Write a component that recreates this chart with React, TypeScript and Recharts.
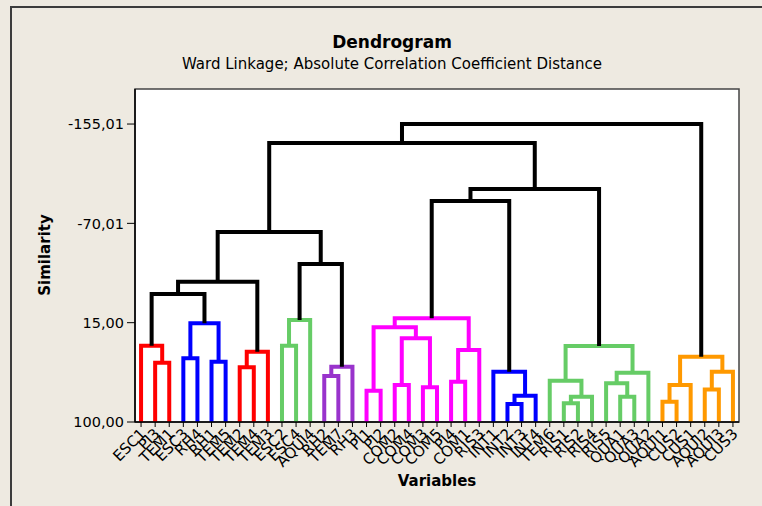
import React from 'react';
import { ComposedChart, Line, XAxis, YAxis, CartesianGrid, ReferenceArea } from 'recharts';

// Leaf variables in dendrogram order
const leafLabels: string[] = [
  'ESC1', 'PI3', 'TEM1', 'ESC3', 'RH4', 'RH1', 'TEM5', 'TEM2', 'TEM4', 'TEM3',
  'ESC2', 'ESC4', 'AQUI4', 'RH2', 'TEM7', 'RH3', 'PI1', 'PI2', 'COM2', 'COM4',
  'COM3', 'COM5', 'PI4', 'COM1', 'RIS3', 'INT1', 'INT2', 'INT3', 'INT4', 'TEM6',
  'RIS1', 'RIS2', 'RIS4', 'RIS5', 'QUA1', 'QUA3', 'QUA2', 'AQUI1', 'CUS2', 'CUS1',
  'AQUI2', 'AQUI3', 'CUS3',
];

// Merge steps: [left node, right node, similarity]. Nodes 0..42 are leaves,
// node 43 + k is the cluster created at step k.
const merges: [number, number, number][] = [
  [1, 2, 49.3],    // 43
  [0, 43, 34.7],   // 44
  [3, 4, 45.5],    // 45
  [5, 6, 48.4],    // 46
  [45, 46, 15.5],  // 47
  [44, 47, -9.5],  // 48
  [7, 8, 53.2],    // 49
  [49, 9, 39.8],   // 50
  [48, 50, -20.1], // 51
  [10, 11, 34.7],  // 52
  [52, 12, 12.7],  // 53
  [13, 14, 60.6],  // 54
  [54, 15, 52.7],  // 55
  [53, 55, -35.2], // 56
  [51, 56, -62.6], // 57
  [16, 17, 73.2],  // 58
  [18, 19, 68.3],  // 59
  [20, 21, 70.3],  // 60
  [59, 60, 28.4],  // 61
  [58, 61, 19.0],  // 62
  [22, 23, 65.5],  // 63
  [63, 24, 38.4],  // 64
  [62, 64, 11.3],  // 65
  [26, 27, 84.6],  // 66
  [66, 28, 77.5],  // 67
  [25, 67, 57.0],  // 68
  [65, 68, -89.1], // 69
  [30, 31, 84.0],  // 70
  [70, 32, 78.3],  // 71
  [29, 71, 64.6],  // 72
  [34, 35, 78.3],  // 73
  [33, 73, 66.9],  // 74
  [74, 36, 57.8],  // 75
  [72, 75, 35.0],  // 76
  [69, 76, -99.4], // 77
  [57, 77, -138.7],// 78
  [37, 38, 82.6],  // 79
  [79, 39, 68.3],  // 80
  [40, 41, 72.1],  // 81
  [81, 42, 57.0],  // 82
  [80, 82, 44.1],  // 83
  [78, 83, -155.01], // 84
];

const yTicks: number[] = [-155.01, -70.01, 15.0, 100.0];
const leafSimilarity = 100;
const colorCut = 0;

// styles
const palette = ['#FF0000', '#0000FF', '#FF0000', '#66CC66', '#9933CC', '#FF00FF', '#0000FF', '#66CC66', '#FF9900'];
const BG = '#EEEAE1';
const FONT = '"DejaVu Sans", Verdana, sans-serif';

const N = leafLabels.length;
const nodeX: number[] = leafLabels.map((_, i) => i);
const nodeH: number[] = leafLabels.map(() => leafSimilarity);
merges.forEach(([a, b, h]) => {
  nodeX.push((nodeX[a] + nodeX[b]) / 2);
  nodeH.push(h);
});

const nodeColor: Record<number, string> = {};
let colorIdx = 0;
const paint = (id: number, color: string | null) => {
  if (id < N) return;
  const [a, b, h] = merges[id - N];
  let c = color;
  if (c === null && h >= colorCut) {
    c = palette[colorIdx % palette.length];
    colorIdx += 1;
  }
  nodeColor[id] = c ?? '#000000';
  paint(a, c);
  paint(b, c);
};
paint(N + merges.length - 1, null);

const links = merges.map(([a, b, h], k) => {
  const id = N + k;
  return {
    id,
    color: nodeColor[id],
    data: [
      { x: nodeX[a], y: nodeH[a] },
      { x: nodeX[a], y: h },
      { x: nodeX[b], y: h },
      { x: nodeX[b], y: nodeH[b] },
    ],
  };
});
// colored first, black on top
const orderedLinks = [...links].sort((p, q) => (p.color === '#000000' ? 1 : 0) - (q.color === '#000000' ? 1 : 0));

const X_MIN = -0.43;
const X_MAX = N - 1 + 0.43;
const Y_MIN = -185;
const Y_MAX = 100;

const LeafTick = (props: any) => {
  const { x, y, payload } = props;
  return (
    <g transform={`translate(${x + 2},${y + 2}) rotate(-45)`}>
      <text x={0} y={0} dy="0.35em" textAnchor="end" fontSize={15} fontFamily={FONT} fill="#000">
        {leafLabels[payload.value]}
      </text>
    </g>
  );
};

const fmt = (v: number) => v.toFixed(2).replace('.', ',');

export default function App() {
  return (
    <div style={{ position: 'fixed', left: 0, top: 0, width: 762, height: 506, background: BG, overflow: 'hidden', fontFamily: FONT }}>
      <div style={{ position: 'absolute', left: 10, top: 6, width: 900, height: 700, borderTop: '2px solid #3c3c3c', borderLeft: '2px solid #3c3c3c' }} />
      <div style={{ position: 'absolute', left: 0, width: 784, top: 32, textAlign: 'center', fontWeight: 'bold', fontSize: 17, color: '#000', lineHeight: '20px' }}>
        Dendrogram
      </div>
      <div style={{ position: 'absolute', left: 0, width: 784, top: 54, textAlign: 'center', fontSize: 15, color: '#000', lineHeight: '20px' }}>
        Ward Linkage; Absolute Correlation Coefficient Distance
      </div>
      <div style={{ position: 'absolute', left: 0, width: 874, top: 472, textAlign: 'center', fontWeight: 'bold', fontSize: 15, color: '#000', lineHeight: '18px' }}>
        Variables
      </div>
      <div style={{ position: 'absolute', left: 45, top: 255, width: 0, height: 0 }}>
        <div style={{ position: 'absolute', left: -60, top: -10, width: 120, textAlign: 'center', fontWeight: 'bold', fontSize: 15, lineHeight: '20px', transform: 'rotate(-90deg)', color: '#000' }}>
          Similarity
        </div>
      </div>
      <div style={{ position: 'absolute', left: 0, top: 0 }}>
        <ComposedChart width={762} height={506} margin={{ top: 89, right: 23, bottom: 24, left: 75 }}>
          <CartesianGrid fill="#FFFFFF" stroke="none" horizontal={false} vertical={false} />
          <XAxis
            type="number"
            dataKey="x"
            domain={[X_MIN, X_MAX]}
            allowDataOverflow
            ticks={leafLabels.map((_, i) => i)}
            interval={0}
            tick={<LeafTick />}
            tickSize={5}
            tickLine={{ stroke: '#000' }}
            axisLine={{ stroke: '#000', strokeWidth: 1.5 }}
            height={60}
          />
          <YAxis
            type="number"
            dataKey="y"
            domain={[Y_MIN, Y_MAX]}
            reversed
            allowDataOverflow
            ticks={yTicks}
            interval={0}
            tickFormatter={fmt}
            tickSize={8}
            tickMargin={3}
            tick={{ fontSize: 14.5, fontFamily: FONT, fill: '#000' }}
            tickLine={{ stroke: '#000' }}
            axisLine={{ stroke: '#000', strokeWidth: 1.5 }}
            width={60}
          />
          <ReferenceArea x1={X_MIN} x2={X_MAX} y1={Y_MIN} y2={Y_MAX} fill="none" stroke="#444" strokeWidth={1.5} ifOverflow="visible" />
          {orderedLinks.map((l) => (
            <Line
              key={l.id}
              data={l.data}
              dataKey="y"
              type="linear"
              stroke={l.color}
              strokeWidth={4}
              strokeLinejoin="miter"
              dot={false}
              activeDot={false}
              isAnimationActive={false}
            />
          ))}
        </ComposedChart>
      </div>
    </div>
  );
}
